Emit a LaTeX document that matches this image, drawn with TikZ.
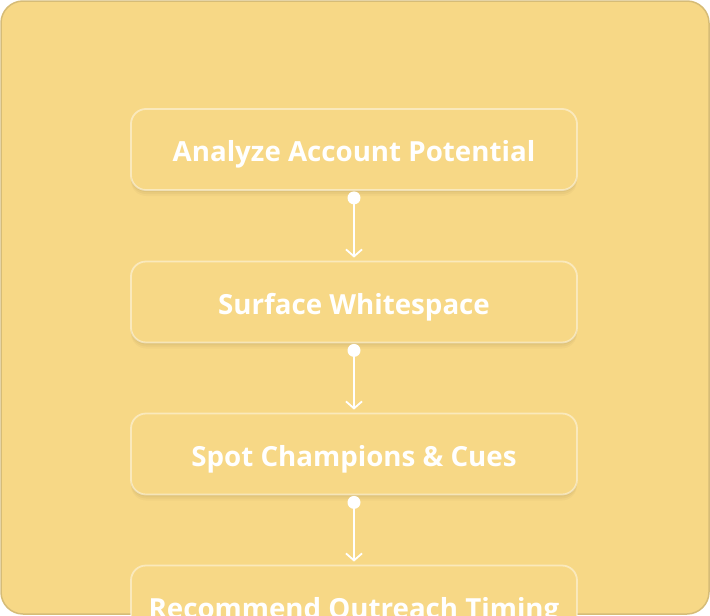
\documentclass[tikz,border=0pt]{standalone}
\usepackage{fontspec}
\setmainfont{Open Sans}
\usetikzlibrary{arrows.meta}
\definecolor{bgfill}{HTML}{F7D886}
\definecolor{bgborder}{HTML}{D6BC77}
\tikzset{
  x=1pt,y=-1pt,
  softshadow/.style={preaction={draw=none, fill=black, fill opacity=#1}},
  stepbox/.style={draw=white, draw opacity=0.45, line width=1.8pt, fill=bgfill, rounded corners=15pt,
    minimum width=446pt, minimum height=81pt, text=white, font=\fontsize{27.7}{32}\selectfont\bfseries,
    inner sep=0pt, text depth=0pt, text height=24pt,
    preaction={draw=none, fill=black, fill opacity=0.025, transform canvas={yshift=-6pt}},
    preaction={draw=none, fill=black, fill opacity=0.03, transform canvas={yshift=-4pt}},
    preaction={draw=none, fill=black, fill opacity=0.035, transform canvas={yshift=-2pt}}},
  conn/.style={draw=white, line width=1.8pt, -{Straight Barb[length=7pt,width=16pt]}, shorten >=3pt},
  dotmark/.style={circle, fill=white, inner sep=0pt, minimum size=13pt}
}
\begin{document}
\begin{tikzpicture}
\useasboundingbox (0,0) rectangle (710,616);
\clip (0,0) rectangle (710,616);
\draw[fill=bgfill, draw=bgborder, line width=1.5pt, rounded corners=22pt] (1,1) rectangle (709,614);
\node[stepbox] (b1) at (354,149.5) {Analyze Account Potential};
\node[stepbox] (b2) at (354,302) {Surface Whitespace};
\node[stepbox] (b3) at (354,454) {Spot Champions \& Cues};
\node[stepbox] (b4) at (354,606) {Recommend Outreach Timing};
\node[dotmark] (d1) at ([yshift=-7pt]b1.south) {};
\node[dotmark] (d2) at ([yshift=-7pt]b2.south) {};
\node[dotmark] (d3) at ([yshift=-7pt]b3.south) {};
\draw[conn] (d1.center) -- (b2.north);
\draw[conn] (d2.center) -- (b3.north);
\draw[conn] (d3.center) -- (b4.north);
\end{tikzpicture}
\end{document}
